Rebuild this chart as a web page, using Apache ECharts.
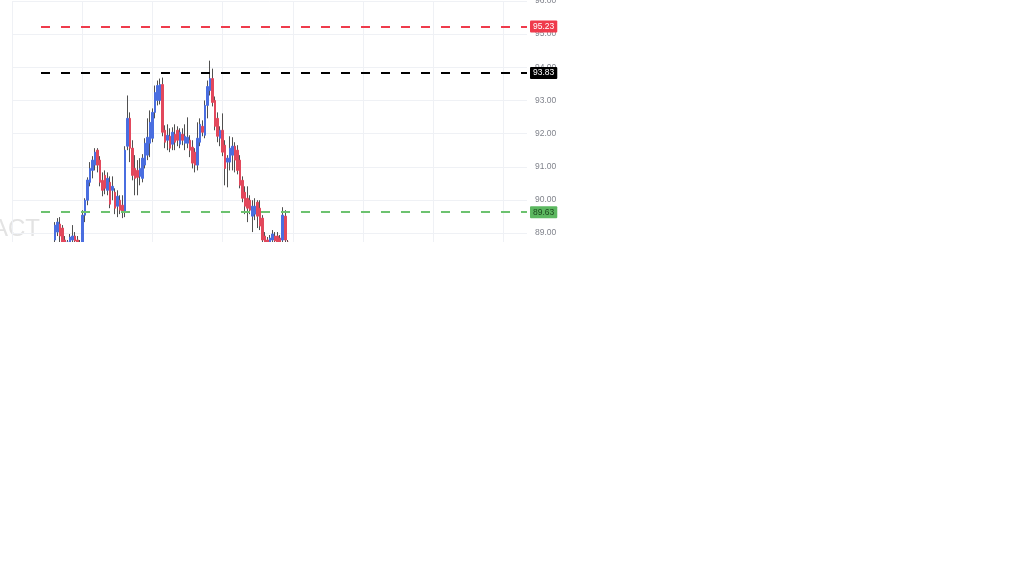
<!DOCTYPE html>
<html>
<head>
<meta charset="utf-8">
<script src="https://cdn.jsdelivr.net/npm/echarts@6/dist/echarts.min.js"></script>
<style>html,body{margin:0;padding:0;background:#fff;}#c{width:1024px;height:576px;}</style>
</head>
<body>
<div id="c"></div>
<script>
const opens = [88.79,89.03,89.27,89.15,88.79,88.61,88.73,88.79,88.91,88.79,
88.61,88.67,89.54,89.99,90.53,90.89,91.05,91.50,91.20,90.59,
90.74,90.29,90.53,90.29,90.23,89.81,89.99,89.84,89.63,91.62,
92.46,91.56,90.95,90.89,90.71,90.65,91.05,91.35,91.71,91.86,
92.64,93.00,93.00,93.48,92.10,91.80,91.92,91.68,91.98,92.10,
91.68,91.98,91.71,91.71,91.80,91.59,91.44,91.05,91.74,92.22,
91.95,92.85,93.30,93.66,93.00,92.46,91.86,92.10,91.65,91.14,
91.14,91.35,91.62,91.50,91.20,90.59,90.23,90.05,89.99,89.51,
89.57,89.93,89.75,89.45,88.91,88.79,88.73,88.79,88.91,88.91,
88.85,88.79,89.51,88.73];
const closes = [89.24,89.33,88.91,88.73,88.67,88.73,88.88,88.91,88.76,88.61,
88.67,89.54,89.99,90.60,90.95,91.20,91.44,91.05,90.53,90.29,
90.35,90.65,89.87,90.41,89.75,90.11,89.69,89.63,91.50,92.46,
91.56,90.74,90.65,90.68,90.95,91.26,91.71,91.89,92.34,92.64,
93.24,93.45,93.48,92.04,91.74,91.95,91.56,92.04,91.74,91.80,
92.04,91.80,91.92,91.89,91.50,91.11,91.05,91.86,92.28,92.04,
92.85,93.42,93.66,92.94,92.22,91.92,92.10,91.44,90.95,91.26,
91.56,91.62,91.20,90.89,90.44,90.05,89.81,89.75,89.69,89.81,
89.81,89.51,89.21,88.79,88.73,88.70,88.85,88.97,88.76,88.70,
88.67,89.54,88.79,88.67];
const lows = [88.73,88.91,88.73,88.61,88.50,88.43,88.61,88.67,88.61,88.49,
88.43,88.55,89.33,89.84,90.41,90.65,90.89,90.83,90.41,90.11,
90.17,90.14,89.75,89.99,89.57,89.48,89.57,89.45,89.48,91.50,
91.14,90.59,90.14,90.14,90.44,90.53,90.95,91.20,91.29,91.74,
92.46,92.85,92.88,91.92,91.56,91.50,91.44,91.50,91.50,91.62,
91.56,91.65,91.50,91.56,91.29,90.95,90.83,90.89,91.62,91.92,
91.86,92.46,93.15,92.82,92.10,91.74,91.62,91.32,90.44,90.38,
90.89,90.89,90.83,90.77,90.35,89.93,89.57,89.33,89.57,89.03,
89.39,89.15,89.09,88.67,88.55,88.61,88.61,88.67,88.61,88.58,
88.55,88.67,88.67,88.55];
const highs = [89.33,89.45,89.48,89.24,88.91,88.79,88.97,89.24,89.03,88.91,
88.79,89.69,90.05,90.68,91.14,91.32,91.56,91.56,91.32,90.83,
90.89,90.83,90.71,90.71,90.35,90.29,90.14,90.14,91.62,93.15,
92.64,91.80,91.35,91.20,91.26,91.38,91.86,92.46,92.70,92.76,
93.45,93.60,93.66,93.69,92.25,92.28,92.16,92.19,92.28,92.22,
92.16,92.16,92.28,92.49,91.95,91.80,91.56,92.34,92.46,92.40,
93.00,93.60,94.20,93.96,93.12,92.64,92.22,92.61,91.80,91.35,
91.92,91.89,91.74,91.65,91.35,90.71,90.41,90.41,90.14,89.99,
90.05,89.99,89.99,89.54,89.03,88.88,88.94,89.09,89.03,89.03,
88.94,89.78,89.69,88.79];
const levels = [95.23, 93.83, 89.63];
const levelColors = ['#ef3b4c', '#000000', '#6cc26f'];
const tagBg = ['#ef3b4c', '#000000', '#5cb860'];
const tagText = ['#ffffff', '#ffffff', '#1d4a1f'];
const yMin = 88, yMax = 96, yStep = 1;

const LEAD = 5, TOTAL = 194;
const categories = Array.from({length: TOTAL}, (_, i) => String(i));
const wickData = [], bodyData = [];
for (let i = 0; i < TOTAL; i++) {
  const k = i - LEAD;
  if (k >= 0 && k < opens.length) {
    wickData.push([opens[k], closes[k], lows[k], highs[k]]);
    bodyData.push([opens[k], closes[k], Math.min(opens[k], closes[k]), Math.max(opens[k], closes[k])]);
  } else {
    wickData.push('-');
    bodyData.push('-');
  }
}

const pxPerUnit = 33.15;
const gTop = 1;
const gHeight = pxPerUnit * (yMax - yMin);

const chart = echarts.init(document.getElementById('c'));
chart.setOption({
  animation: false,
  backgroundColor: '#ffffff',
  grid: [
    {left: 12, width: 515, top: gTop, height: gHeight, outerBoundsMode: 'none', containLabel: false},
    {left: 41, width: 486, top: gTop, height: gHeight, outerBoundsMode: 'none', containLabel: false}
  ],
  xAxis: [
    {type: 'value', gridIndex: 0, min: 0, max: 515 / 70.2, interval: 1,
     axisLine: {show: false}, axisTick: {show: false}, axisLabel: {show: false},
     splitLine: {show: true, showMaxLine: false, lineStyle: {color: '#eff1f5', width: 1}}},
    {type: 'category', gridIndex: 1, data: categories, boundaryGap: true, show: false}
  ],
  yAxis: [
    {type: 'value', gridIndex: 0, position: 'right', min: yMin, max: yMax, interval: yStep,
     axisLine: {show: false}, axisTick: {show: false},
     axisLabel: {show: true, margin: 8, color: '#80838c', fontSize: 8.5, fontFamily: 'Liberation Sans',
       formatter: v => v.toFixed(2)},
     splitLine: {show: true, lineStyle: {color: '#eff1f5', width: 1}}},
    {type: 'value', gridIndex: 1, min: yMin, max: yMax, show: false, splitLine: {show: false}}
  ],
  graphic: [
    {type: 'text', z: -10, style: {text: 'ACT', x: 40, y: 229, align: 'right', verticalAlign: 'middle',
      font: '24px "Liberation Sans"', fill: '#e3e3e3'}},
    {type: 'rect', z: 100, shape: {x: 0, y: 242, width: 1024, height: 334}, style: {fill: '#ffffff'}}
  ],
  series: [
    {type: 'candlestick', xAxisIndex: 1, yAxisIndex: 1, data: wickData, barWidth: 1,
     itemStyle: {color: '#505050', color0: '#505050', borderColor: '#505050', borderColor0: '#505050', borderWidth: 1},
     markLine: {
       silent: true, symbol: ['none', 'none'], animation: false,
       data: levels.map((v, i) => ({
         yAxis: v,
         lineStyle: {color: levelColors[i], type: [9, 11], width: 2},
         label: {show: true, position: 'end', distance: 3, formatter: v.toFixed(2),
           backgroundColor: tagBg[i], color: tagText[i], fontSize: 8.5, fontFamily: 'Liberation Sans',
           padding: [2, 3, 1, 3], borderRadius: 1}
       }))
     }},
    {type: 'candlestick', xAxisIndex: 1, yAxisIndex: 1, data: bodyData, barWidth: 2,
     itemStyle: {color: '#4a6ee0', color0: '#e2485c', borderColor: '#4a6ee0', borderColor0: '#e2485c', borderWidth: 1}}
  ]
});
</script>
</body>
</html>
